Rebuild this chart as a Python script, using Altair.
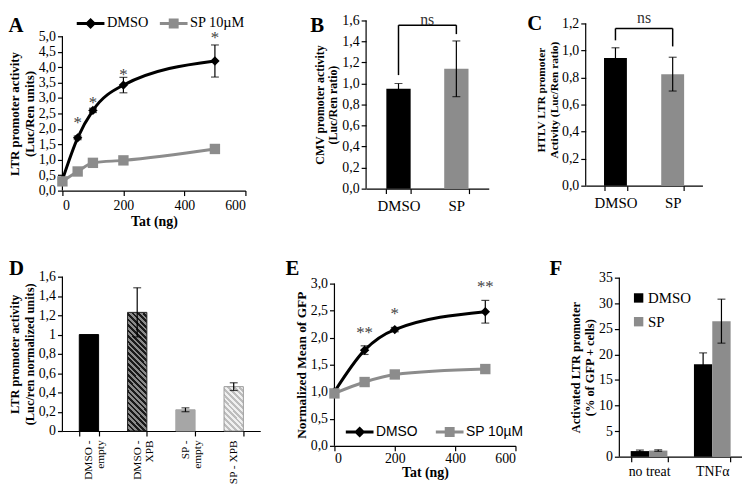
import altair as alt
import pandas as pd

SERIF = "Liberation Serif"
SANS = "Liberation Sans"
BLACK = "#000000"
GREY = "#8c8c8c"
STAR = "#444444"
COMMA1 = "replace(format(datum.value, '.1f'), '.', ',')"
COMMAG = "replace(format(datum.value, '.1~f'), '.', ',')"

# ---------------- data ----------------
# A
a_tat = [0, 50, 100, 200, 500]
a_dmso = [0.35, 1.71, 2.6, 3.42, 4.2]
a_dmso_err = [0.0, 0.06, 0.07, 0.25, 0.52]
a_sp = [0.3, 0.62, 0.9, 0.98, 1.35]
a_star_tat = [50, 100, 200, 500]
a_star_y = [2.2, 2.85, 3.75, 4.95]
a_star_txt = ["*", "*", "*", "*"]
# B
b_cat = ["DMSO", "SP"]
b_val = [0.95, 1.14]
b_err = [0.05, 0.265]
b_br_lo = [1.08, 1.47]
b_br_hi = [1.555, 1.555]
b_ns_y = 1.56
# C
c_cat = ["DMSO", "SP"]
c_val = [0.945, 0.825]
c_err = [0.075, 0.125]
c_br_lo = [1.075, 1.03]
c_br_hi = [1.163, 1.163]
c_ns_y = 1.2
# D
d_cat = ["DMSO -|empty", "DMSO -|XPB", "SP -|empty", "SP - XPB"]
d_val = [1.0, 1.23, 0.22, 0.46]
d_err = [0.0, 0.255, 0.02, 0.04]
# E
e_tat = [0, 100, 200, 500]
e_dmso = [1.0, 1.77, 2.15, 2.48]
e_dmso_err = [0.0, 0.08, 0.04, 0.21]
e_sp = [0.97, 1.18, 1.32, 1.42]
e_star_tat = [100, 200, 500]
e_star_y = [2.08, 2.44, 2.93]
e_star_txt = ["**", "*", "**"]
# F
f_cat = ["no treat", "TNFα"]
f_dmso = [1.1, 18.1]
f_dmso_err = [0.2, 2.2]
f_sp = [1.2, 26.5]
f_sp_err = [0.15, 4.3]

SERIES = ["DMSO", "SP 10µM"]
LEG_PATHS = ["M-1.556,0H1.556M0,-0.389L0.389,0L0,0.389L-0.389,0ZM0,-0.156L0.156,0L0,0.156L-0.156,0Z",
             "M-1.556,0H1.556M-0.389,-0.389H0.389V0.389H-0.389ZM-0.156,-0.156H0.156V0.156H-0.156Z"]
IND = dict(color="independent", fill="independent", stroke="independent", shape="independent")


def letter(t, dx=0, dy=38):
    return alt.TitleParams(text=t, anchor="start", frame="bounds", fontSize=21,
                           font=SERIF, fontWeight="bold", color=BLACK, offset=0,
                           baseline="alphabetic", dy=dy, dx=dx)


def axis_line(top):
    return alt.Chart(pd.DataFrame({"lo": [0], "hi": [top]})).mark_rule(
        color=BLACK, strokeWidth=1.2).encode(x=alt.value(0), y="lo:Q", y2="hi:Q")


def yaxis(vals, expr, title, tfs, ty, **kw):
    return alt.Axis(values=vals, labelExpr=expr, title=title, domain=False, labelOverlap=False,
                    tickCount=50, titleFontSize=tfs, titleY=ty, **kw)


def line_legend(x, y, font, size, colpad):
    return alt.Legend(title=None, orient="none", legendX=x, legendY=y, direction="horizontal",
                      symbolSize=324, symbolStrokeWidth=3, labelFont=font, labelFontSize=size,
                      labelOffset=6, columnPadding=colpad, symbolOpacity=1)


def line_panel(tat, dmso, err, sp, stars_x, stars_y, stars_t, ydom, yvals, ytop, ytitle,
               w, h, title, legend, tfs, ty, xlabpad=3, xtitlepad=2):
    df = pd.DataFrame({"tat": tat * 2, "val": dmso + sp,
                       "series": [SERIES[0]] * len(tat) + [SERIES[1]] * len(tat)})
    dfe = pd.DataFrame({"tat": tat, "lo": [v - e for v, e in zip(dmso, err)],
                        "hi": [v + e for v, e in zip(dmso, err)], "e": err})
    dfs = pd.DataFrame({"tat": stars_x, "val": stars_y, "t": stars_t})
    x = alt.X("tat:Q", scale=alt.Scale(domain=[0, 600], nice=False),
              axis=alt.Axis(values=[0, 200, 400, 600], format="d", title="Tat (ng)",
                            titleFontSize=14, labelOverlap=False, labelPadding=xlabpad,
                            titlePadding=xtitlepad, tickCount=50))
    y = alt.Y("val:Q", scale=alt.Scale(domain=ydom, nice=False),
              axis=yaxis(yvals, COMMA1, ytitle, tfs, ty))
    base = alt.Chart(df)
    leg = base.mark_point(filled=False, opacity=1, size=0).encode(
        x=x, y=y,
        stroke=alt.Stroke("series:N", scale=alt.Scale(domain=SERIES, range=[BLACK, GREY]), legend=legend),
        shape=alt.Shape("series:N", scale=alt.Scale(domain=SERIES, range=LEG_PATHS), legend=legend))
    lines = base.mark_line(strokeWidth=3, interpolate="monotone").encode(
        x="tat:Q", y="val:Q",
        color=alt.Color("series:N", scale=alt.Scale(domain=SERIES, range=[BLACK, GREY]), legend=None))
    ebase = alt.Chart(dfe).transform_filter("datum.e > 0")
    erule = ebase.mark_rule(color=BLACK, strokeWidth=1.2).encode(x="tat:Q", y="lo:Q", y2="hi:Q")
    elo = ebase.mark_tick(orient="horizontal", size=8, thickness=1.2, color=BLACK).encode(x="tat:Q", y="lo:Q")
    ehi = ebase.mark_tick(orient="horizontal", size=8, thickness=1.2, color=BLACK).encode(x="tat:Q", y="hi:Q")
    p1 = base.transform_filter(alt.datum.series == SERIES[0]).mark_point(
        filled=True, opacity=1, size=90, shape="diamond", color=BLACK).encode(x="tat:Q", y="val:Q")
    p2 = base.transform_filter(alt.datum.series == SERIES[1]).mark_point(
        filled=True, opacity=1, size=110, shape="square", color=GREY).encode(x="tat:Q", y="val:Q")
    stars = alt.Chart(dfs).mark_text(font=SERIF, fontSize=17, color=STAR, baseline="middle").encode(
        x="tat:Q", y="val:Q", text="t:N")
    return alt.layer(leg, lines, axis_line(ytop), erule, elo, ehi, p1, p2, stars).properties(
        width=w, height=h, title=title)


def bar2_panel(cats, vals, errs, br_lo, br_hi, ns_y, ydom, yvals, ytop, ytitle, w, h, title,
               pin, pout, dx, tfs, ty):
    df = pd.DataFrame({"cat": cats, "val": vals,
                       "lo": [v - e for v, e in zip(vals, errs)],
                       "hi": [v + e for v, e in zip(vals, errs)]})
    x = alt.X("cat:N", sort=cats, scale=alt.Scale(paddingInner=pin, paddingOuter=pout),
              axis=alt.Axis(title=None, labelAngle=0, labelFontSize=15, tickBand="extent",
                            labelPadding=5))
    y = alt.Y("val:Q", scale=alt.Scale(domain=ydom, nice=False),
              axis=yaxis(yvals, COMMA1, ytitle, tfs, ty))
    bars = alt.Chart(df).mark_bar().encode(
        x=x, y=y, color=alt.Color("cat:N", scale=alt.Scale(domain=cats, range=[BLACK, GREY]),
                                  legend=None))
    er = alt.Chart(df).mark_rule(color=BLACK, strokeWidth=1.2).encode(x=x, y="lo:Q", y2="hi:Q")
    t1 = alt.Chart(df).mark_tick(orient="horizontal", size=8, thickness=1.2, color=BLACK).encode(x=x, y="lo:Q")
    t2 = alt.Chart(df).mark_tick(orient="horizontal", size=8, thickness=1.2, color=BLACK).encode(x=x, y="hi:Q")
    dfb = pd.DataFrame({"cat": cats, "lo": br_lo, "hi": br_hi})
    bv = alt.Chart(dfb).mark_rule(color=BLACK, strokeWidth=1.5).encode(x=x, y="lo:Q", y2="hi:Q")
    dfh = pd.DataFrame({"cat": [cats[0]], "b": [cats[1]], "y": [br_hi[0]]})
    bh = alt.Chart(dfh).mark_rule(color=BLACK, strokeWidth=1.5).encode(x=x, x2="b:N", y="y:Q")
    dft = pd.DataFrame({"cat": [cats[0]], "y": [ns_y], "t": ["ns"]})
    ns = alt.Chart(dft).mark_text(font=SERIF, fontSize=16, color="#333333", baseline="alphabetic",
                                  dx=dx).encode(x=x, y="y:Q", text="t:N")
    return alt.layer(bars, axis_line(ytop), er, t1, t2, bv, bh, ns).properties(
        width=w, height=h, title=title)


def stripes(c1, c2, w, h, period=4.0):
    k = (w + h) / (w * w + h * h)
    n = max(2, int(round((w + h) / 1.4142 / period)))
    stops = []
    for i in range(n):
        stops += [{"offset": i / n, "color": c1}, {"offset": (i + 0.5) / n, "color": c1},
                  {"offset": (i + 0.5) / n, "color": c2}, {"offset": (i + 1) / n, "color": c2}]
    return {"gradient": "linear", "x1": 0, "y1": 1, "x2": k * w, "y2": 1 - k * h, "stops": stops}


# ---------------- panels ----------------
A = line_panel(a_tat, a_dmso, a_dmso_err, a_sp, a_star_tat, a_star_y, a_star_txt,
               [0, 5.77], [i * 0.5 for i in range(11)], 5.0,
               ["LTR promoter activity", "(Luc/Ren units)"],
               185, 180, letter("A", 0, 41), line_legend(18, 0, SERIF, 14.5, 5), 13, 102)

B = bar2_panel(b_cat, b_val, b_err, b_br_lo, b_br_hi, b_ns_y, [0, 1.675],
               [i * 0.2 for i in range(9)], 1.6, ["CMV promoter activity", "(Luc/Ren ratio)"],
               124, 178, letter("B", -3, 41), 0.58, 0.35, 29, 12, 93)

C = bar2_panel(c_cat, c_val, c_err, c_br_lo, c_br_hi, c_ns_y, [0, 1.2805],
               [i * 0.2 for i in range(7)], 1.2, ["HTLV LTR promoter", "Activity (Luc/Ren ratio)"],
               118, 175, letter("C", -8, 41), 0.6, 0.32, 29, 11.5, 88)

# D
dfd = pd.DataFrame({"cat": d_cat, "val": d_val,
                    "lo": [v - e for v, e in zip(d_val, d_err)],
                    "hi": [v + e for v, e in zip(d_val, d_err)], "e": d_err})
dx_ = alt.X("cat:N", sort=d_cat, scale=alt.Scale(paddingInner=0.6, paddingOuter=0.35),
            axis=alt.Axis(title=None, labelAngle=-90, labelFontSize=11.5, tickBand="extent",
                          labelExpr="split(datum.label, '|')", labelLineHeight=12,
                          labelPadding=4))
dy_ = alt.Y("val:Q", scale=alt.Scale(domain=[0, 1.795], nice=False),
            axis=yaxis([i * 0.2 for i in range(9)], COMMAG,
                       ["LTR promoter activity", "(Luc/ren normalized units)"], 12.5, 97))
d_fills = [BLACK, stripes("#1a1a1a", "#8a8a8a", 20, 121), "#a6a6a6", stripes("#bdbdbd", "#f0f0f0", 20, 45)]
d_strokes = [BLACK, "#222222", "#a6a6a6", "#9a9a9a"]
d_layers = []
for i, c in enumerate(d_cat):
    d_layers.append(alt.Chart(dfd).transform_filter(alt.datum.cat == c).mark_bar(
        fill=d_fills[i], stroke=d_strokes[i], strokeWidth=1).encode(x=dx_, y=dy_))
d_layers.append(axis_line(1.6))
deb = alt.Chart(dfd).transform_filter("datum.e > 0")
d_layers.append(deb.mark_rule(color=BLACK, strokeWidth=1.2).encode(x=dx_, y="lo:Q", y2="hi:Q"))
d_layers.append(deb.mark_tick(orient="horizontal", size=8, thickness=1.2, color=BLACK).encode(x=dx_, y="lo:Q"))
d_layers.append(deb.mark_tick(orient="horizontal", size=8, thickness=1.2, color=BLACK).encode(x=dx_, y="hi:Q"))
D = alt.layer(*d_layers).properties(width=200, height=175, title=letter("D"))

E = line_panel(e_tat, e_dmso, e_dmso_err, e_sp, e_star_tat, e_star_y, e_star_txt,
               [0, 3.476], [i * 0.5 for i in range(7)], 3.0, "Normalized Mean of GFP",
               183, 190, letter("E", -9), line_legend(15, 165, SANS, 14, 12),
               13.5, 108, xlabpad=1, xtitlepad=0)

# F
F_SER = ["DMSO", "SP"]
dff = pd.DataFrame({"cat": f_cat * 2, "series": [F_SER[0]] * 2 + [F_SER[1]] * 2,
                    "val": f_dmso + f_sp,
                    "lo": [v - e for v, e in zip(f_dmso + f_sp, f_dmso_err + f_sp_err)],
                    "hi": [v + e for v, e in zip(f_dmso + f_sp, f_dmso_err + f_sp_err)]})
fx = alt.X("cat:N", sort=f_cat, scale=alt.Scale(paddingInner=0.42, paddingOuter=0.18),
           axis=alt.Axis(title=None, labelAngle=0, labelFontSize=14, tickBand="extent", labelPadding=3))
fxo = alt.XOffset("series:N", sort=F_SER, scale=alt.Scale(paddingInner=0, paddingOuter=0))
fy = alt.Y("val:Q", scale=alt.Scale(domain=[0, 38.87], nice=False),
           axis=alt.Axis(values=list(range(0, 36, 5)), format="d", domain=False, labelOverlap=False,
                         tickCount=50, titleFontSize=12.5, titleY=110.5,
                         title=["Activated LTR promoter", "(% of GFP + cells)"]))
fbars = alt.Chart(dff).mark_bar().encode(
    x=fx, xOffset=fxo, y=fy,
    color=alt.Color("series:N", scale=alt.Scale(domain=F_SER, range=[BLACK, GREY]),
                    legend=alt.Legend(title=None, orient="none", legendX=12, legendY=33,
                                      symbolType="square", symbolSize=90, labelFont=SERIF,
                                      labelFontSize=15, rowPadding=8, labelOffset=2,
                                      symbolOpacity=1)))
fer = alt.Chart(dff).mark_rule(color=BLACK, strokeWidth=1.2).encode(x=fx, xOffset=fxo, y="lo:Q", y2="hi:Q")
ft1 = alt.Chart(dff).mark_tick(orient="horizontal", size=8, thickness=1.2, color=BLACK).encode(x=fx, xOffset=fxo, y="lo:Q")
ft2 = alt.Chart(dff).mark_tick(orient="horizontal", size=8, thickness=1.2, color=BLACK).encode(x=fx, xOffset=fxo, y="hi:Q")
F = alt.layer(fbars, axis_line(35), fer, ft1, ft2).properties(width=124, height=201,
                                                             title=letter("F", -20))

row1 = alt.hconcat(A, alt.hconcat(B, C, spacing=39).resolve_scale(**IND), spacing=64).resolve_scale(**IND)
row2 = alt.hconcat(D, alt.hconcat(E, F, spacing=26).resolve_scale(**IND), spacing=25).resolve_scale(**IND)
chart = alt.vconcat(row1, row2, spacing=30).resolve_scale(**IND).configure(
    background="white", padding=0
).configure_view(stroke=None).configure_axis(
    labelFont=SERIF, labelFontSize=14, labelColor=BLACK, titleFont=SERIF, titleFontSize=12,
    titleFontWeight="bold", titleColor=BLACK, domainColor=BLACK, tickColor=BLACK, grid=False,
    tickSize=5, domainWidth=1.2, tickWidth=1.2, labelPadding=2, titlePadding=2,
    labelOverlap=False
)

chart.save("out.html", embed_options={"renderer": "svg", "actions": False})
